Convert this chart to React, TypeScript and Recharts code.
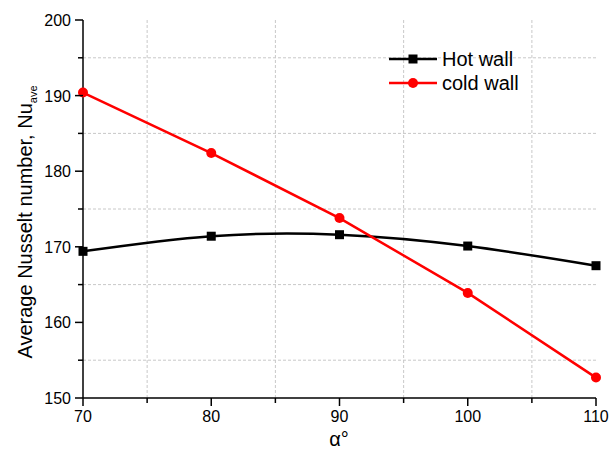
import React from "react";
import {
  LineChart,
  Line,
  XAxis,
  YAxis,
  CartesianGrid,
} from "recharts";

const angles = [70, 80, 90, 100, 110];
const hotWall = [169.4, 171.4, 171.6, 170.1, 167.5];
const coldWall = [190.4, 182.4, 173.8, 163.9, 152.7];

const xTicks = [70, 75, 80, 85, 90, 95, 100, 105, 110];
const yTicks = [150, 155, 160, 165, 170, 175, 180, 185, 190, 195, 200];
const xGrid = [75, 85, 95, 105];
const yGrid = [155, 165, 175, 185, 195];

const FONT = "'Liberation Sans', Arial, sans-serif";

const data = angles.map((a, i) => ({ angle: a, hot: hotWall[i], cold: coldWall[i] }));

const isMajor = (v: number) => v % 10 === 0;

function BottomTick({ x, y, payload }: any) {
  const len = isMajor(payload.value) ? 8 : 5;
  return (
    <g>
      <line x1={x} x2={x} y1={y} y2={y + len} stroke="#000" strokeWidth={1.5} />
      {isMajor(payload.value) && (
        <text x={x} y={y + 24} textAnchor="middle" fontSize={16} fontFamily={FONT} fill="#000">
          {payload.value}
        </text>
      )}
    </g>
  );
}

function LeftTick({ x, y, payload }: any) {
  const len = isMajor(payload.value) ? 8 : 5;
  return (
    <g>
      <line x1={x} x2={x - len} y1={y} y2={y} stroke="#000" strokeWidth={1.5} />
      {isMajor(payload.value) && (
        <text x={x - 12} y={y + 6} textAnchor="end" fontSize={16} fontFamily={FONT} fill="#000">
          {payload.value}
        </text>
      )}
    </g>
  );
}

function TopTick({ x, y, payload }: any) {
  const len = isMajor(payload.value) ? 5 : 4;
  return <line x1={x} x2={x} y1={y} y2={y + len} stroke="#000" strokeWidth={1.5} />;
}

function RightTick({ x, y, payload }: any) {
  const len = isMajor(payload.value) ? 5 : 4;
  return <line x1={x} x2={x - len} y1={y} y2={y} stroke="#000" strokeWidth={1.5} />;
}

function SquareDot({ cx, cy }: any) {
  return <rect x={cx - 4.5} y={cy - 4.5} width={9} height={9} fill="#000" />;
}

function LegendBox() {
  const rows = [
    { label: "Hot wall", color: "#000", square: true },
    { label: "cold wall", color: "#ff0000", square: false },
  ];
  return (
    <svg width={160} height={50} style={{ position: "absolute", left: 388, top: 47 }}>
      {rows.map((r, i) => {
        const cy = 12 + i * 24;
        return (
          <g key={r.label}>
            <line x1={1} x2={49} y1={cy} y2={cy} stroke={r.color} strokeWidth={2.5} />
            {r.square ? (
              <rect x={20.5} y={cy - 4.5} width={9} height={9} fill={r.color} />
            ) : (
              <circle cx={25} cy={cy} r={5} fill={r.color} />
            )}
            <text x={54} y={cy + 7} fontSize={20} fontFamily={FONT} fill="#000">
              {r.label}
            </text>
          </g>
        );
      })}
    </svg>
  );
}

export default function App() {
  return (
    <div style={{ position: "absolute", left: 0, top: 0, width: 610, height: 452, background: "#fff" }}>
      <LineChart
        width={610}
        height={452}
        data={data}
        margin={{ top: 20, right: 14, left: 0, bottom: 0 }}
      >
        <CartesianGrid
          stroke="#c8c8c8"
          strokeDasharray="3 2"
          horizontalValues={yGrid}
          verticalValues={xGrid}
        />
        <XAxis
          dataKey="angle"
          type="number"
          domain={[70, 110]}
          ticks={xTicks}
          height={54}
          stroke="#000"
          strokeWidth={1.5}
          tickSize={0}
          tickMargin={0}
          tickLine={false}
          tick={<BottomTick />}
          interval={0}
          label={{
            content: () => (
              <text x={339} y={446} textAnchor="middle" fontSize={20} fontFamily={FONT} fill="#000">
                α°
              </text>
            ),
          }}
        />
        <XAxis
          xAxisId="top"
          dataKey="angle"
          type="number"
          orientation="top"
          domain={[70, 110]}
          ticks={xTicks}
          height={0}
          stroke="#000"
          strokeWidth={1.5}
          tickSize={0}
          tickMargin={0}
          tickLine={false}
          tick={<TopTick />}
          interval={0}
        />
        <YAxis
          type="number"
          domain={[150, 200]}
          ticks={yTicks}
          width={83}
          stroke="#000"
          strokeWidth={1.5}
          tickSize={0}
          tickMargin={0}
          tickLine={false}
          tick={<LeftTick />}
          interval={0}
          label={{
            content: () => (
              <text
                x={32}
                y={222}
                transform="rotate(-90, 32, 222)"
                textAnchor="middle"
                fontSize={20}
                fontFamily={FONT}
                fill="#000"
              >
                Average Nusselt number, Nu
                <tspan fontSize={11} dy={5}>ave</tspan>
              </text>
            ),
          }}
        />
        <YAxis
          yAxisId="right"
          type="number"
          orientation="right"
          domain={[150, 200]}
          ticks={yTicks}
          width={0}
          stroke="#000"
          strokeWidth={1.5}
          tickSize={0}
          tickMargin={0}
          tickLine={false}
          tick={<RightTick />}
          interval={0}
        />
        <Line
          dataKey="hot"
          type="natural"
          stroke="#000"
          strokeWidth={2.5}
          dot={<SquareDot />}
          activeDot={false}
          isAnimationActive={false}
        />
        <Line
          dataKey="cold"
          type="linear"
          stroke="#ff0000"
          strokeWidth={2.5}
          dot={{ r: 5, fill: "#ff0000", stroke: "#ff0000", strokeWidth: 0 }}
          activeDot={false}
          isAnimationActive={false}
        />
      </LineChart>
      <LegendBox />
    </div>
  );
}
